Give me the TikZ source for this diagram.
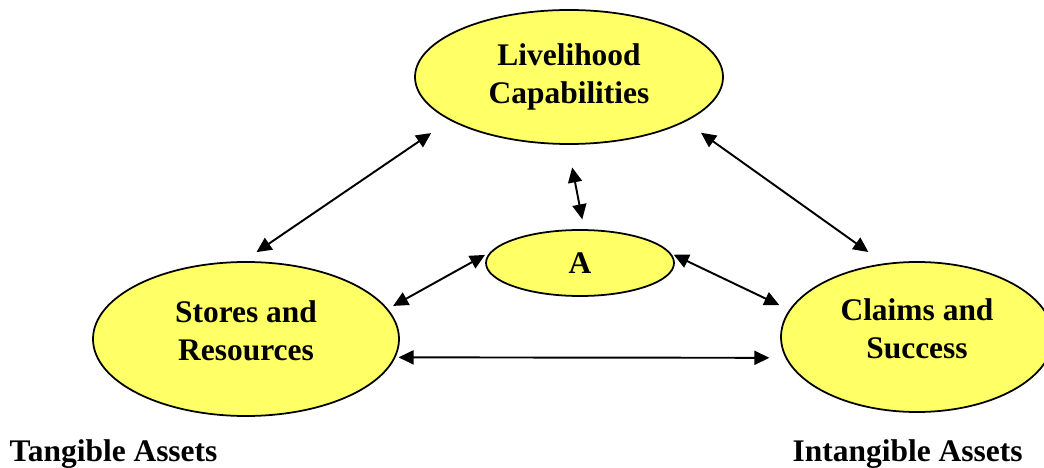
\documentclass[tikz,border=0pt]{standalone}
\usepackage{fontspec}
\setmainfont{Liberation Serif}
\usetikzlibrary{arrows.meta,shapes.geometric}
\definecolor{ink}{HTML}{000000}
\definecolor{pale}{HTML}{FFFF66}

\begin{document}
\begin{tikzpicture}[
  >={Triangle[length=3mm, width=2.8mm]},
  font=\fontsize{17.9}{21.6}\selectfont\bfseries,
  hub/.style={ellipse, draw=ink, fill=pale, line width=1pt, align=center, inner sep=0pt},
  side/.style={hub, text depth=0.32cm},
  tag/.style={anchor=base west, text=ink},
  link/.style={<->, line width=1.1pt, ink},
]
\useasboundingbox (0,0) rectangle (20.88,-9.36);

% ---------- the four ellipses ----------
\node[hub, minimum width=6.16cm, minimum height=2.68cm] (LC) at (11.38,-1.54) {Livelihood\\Capabilities};
\node[hub, minimum width=3.76cm, minimum height=1.32cm] (A) at (11.60,-5.26) {A};
\node[side, minimum width=6.12cm, minimum height=3.08cm] (SR) at (4.92,-6.78) {Stores and\\Resources};
\node[side, minimum width=5.44cm, minimum height=3.00cm] (CS) at (18.34,-6.74) {Claims and\\Success};

% ---------- asset labels ----------
\node[tag] (TA) at (0.07,-9.23) {Tangible Assets};
\node[tag] (IA) at (15.73,-9.23) {Intangible Assets};

% ---------- two-way links ----------
\draw[link, shorten <=0.45cm, shorten >=0.32cm] (LC.200) -- (SR.92);
\draw[link, shorten <=0.38cm, shorten >=0.39cm] (LC.339) -- (CS.114);
\draw[link, shorten <=0.46cm, shorten >=0.20cm] (LC.269) -- (A.83);
\draw[link, shorten <=0.12cm, shorten >=0.12cm] (A.173) -- (SR.12);
\draw[link, shorten <=0.06cm, shorten >=0.22cm] (A.6) -- (CS.168);
\draw[link, shorten <=0.06cm, shorten >=0.32cm] (SR.353) -- (CS.189);

\end{tikzpicture}
\end{document}
